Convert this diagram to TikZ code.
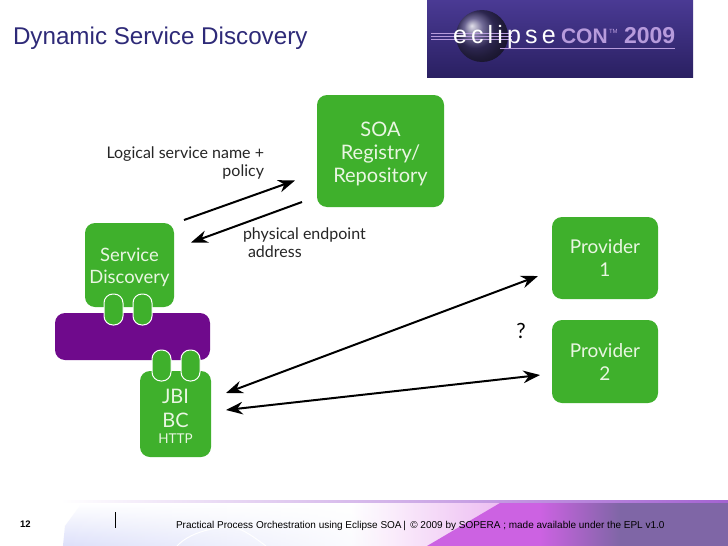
\documentclass[tikz,border=0pt]{standalone}
\usepackage{fontspec}
\usepackage{xcolor}
\setmainfont{Lato}
\newfontfamily\arialfont{Liberation Sans}
\usetikzlibrary{arrows.meta}
\usetikzlibrary{calc, fadings, positioning}
\definecolor{soagreen}{HTML}{3FB02C}
\definecolor{busviolet}{HTML}{6F0A8C}
\definecolor{titleblue}{HTML}{2E2A78}
\definecolor{boxtext}{HTML}{E9F6E2}
\definecolor{logotop}{HTML}{4A3A94}
\definecolor{logobottom}{HTML}{2A2062}
\definecolor{logotext}{HTML}{B79BDC}
\definecolor{footblue}{HTML}{DDE0FA}
\definecolor{footpink}{HTML}{CC62E2}
\definecolor{footpale}{HTML}{EDBDF2}
\definecolor{footdark}{HTML}{7F66A6}
\definecolor{footline}{HTML}{A463D2}
\tikzfading[name=blueout, left color=transparent!0, middle color=transparent!0, right color=transparent!100]
\tikzstyle{greenbox}=[rectangle, fill=soagreen, text=boxtext, rounded corners=10pt, align=center, inner sep=0pt]
\tikzstyle{pill}=[rectangle, fill=soagreen, draw=white, line width=1pt, rounded corners=9pt, minimum width=19pt, minimum height=31pt, inner sep=0pt]
\tikzstyle{caption}=[font=\fontsize{16pt}{18pt}\selectfont, inner sep=0pt, text=black!85]

\begin{document}
\begin{tikzpicture}[x=1pt, y=-1pt]

\tikzset{>={Stealth[scale=1.4]}}
\tikzset{every path/.style={line width=2pt}}

\useasboundingbox (0,0) rectangle (728,546);
\fill[white] (0,0) rectangle (728,546);

% Title and logo
\node[anchor=base west, inner sep=0pt, text=titleblue, font=\arialfont\fontsize{24.2pt}{26pt}\selectfont] (title) at (12,44) {Dynamic Service Discovery};

\shade[top color=logotop, bottom color=logobottom] (427,0) rectangle (693,77);
\shade[ball color=logobottom!90!white] (482,36) circle (26);
\foreach \ly in {33,36,39} {
    \draw[line width=.4pt, logotext] (431,\ly) -- (512,\ly);
}
\node[anchor=base west, inner sep=0pt, text=white, font=\arialfont\fontsize{25pt}{26pt}\selectfont] (eclipse) at (452,43) {e\,c\,l\,i\,p\,s\,e};
\node[anchor=base west, inner sep=0pt, text=logotext, font=\arialfont\bfseries\fontsize{21pt}{22pt}\selectfont] (con) at (560,43) {CON};
\node[anchor=base west, inner sep=0pt, text=logotext, font=\arialfont\fontsize{6pt}{7pt}\selectfont] (tm) at (608,33) {TM};
\node[anchor=base west, inner sep=0pt, text=logotext, font=\arialfont\bfseries\fontsize{23pt}{24pt}\selectfont] (year) at (623,43) {2009};
\draw[line width=.5pt, logotext] (500,48) -- (675,48);

% Boxes
\node[greenbox, minimum width=127pt, minimum height=112pt, font=\fontsize{20pt}{23pt}\selectfont] (registry) at (380.5,151) {\rule{0pt}{20pt}SOA\\Registry/\\Repository};
\node[greenbox, minimum width=106pt, minimum height=82pt, font=\fontsize{19pt}{23pt}\selectfont] (provider1) at (605,258) {Provider\\1};
\node[greenbox, minimum width=106pt, minimum height=83pt, font=\fontsize{19pt}{23pt}\selectfont, below=19pt of provider1] (provider2) {Provider\\2};

\node[greenbox, minimum width=89pt, minimum height=84pt, font=\fontsize{18.4pt}{22pt}\selectfont] (discovery) at (129.5,265) {\rule{0pt}{18pt}Service\\Discovery};
\node[rectangle, fill=busviolet, rounded corners=10pt, minimum width=155pt, minimum height=47pt, inner sep=0pt] (bus) at (132.5,336.5) {};
\node[greenbox, minimum width=71pt, minimum height=86pt, font=\fontsize{20pt}{24pt}\selectfont] (jbi) at (175.5,414) {\rule{0pt}{19pt}JBI\\BC\\[-8pt]{\fontsize{13.5pt}{15pt}\selectfont HTTP}};

% Connectors between the boxes
\node[pill] (pill1) at (113.5,309.5) {};
\node[pill] (pill2) at (142.5,309.5) {};
\node[pill] (pill3) at (161.5,365.5) {};
\node[pill] (pill4) at (190.5,365.5) {};

% Arrow ends
\coordinate (reqtail) at (184,220);
\coordinate (reqhead) at (295,180.5);
\coordinate (resptail) at (302,202);
\coordinate (resphead) at (191,242.5);
\coordinate (jbiup) at (226,393);
\coordinate (provup) at (538,276);
\coordinate (jbidown) at (226,410);
\coordinate (provdown) at (540,375);

\draw[->] (reqtail) -- (reqhead); % request
\draw[->] (resptail) -- (resphead); % response
\draw[<->] (jbiup) -- (provup); % to provider 1
\draw[<->] (jbidown) -- (provdown); % to provider 2

% Labels
\node[caption, anchor=north east, align=right] (reqlabel) at (265,146) {Logical service name +\\policy};
\node[caption, anchor=north west, align=left] (resplabel) at (242,227) {physical endpoint\\\hspace{5pt}address};
\node[inner sep=0pt, font=\fontsize{21pt}{22pt}\selectfont] (question) at (521,331) {?};

% Footer
\fill[left color=white, middle color=footline, right color=footline] (60,500) rectangle (728,502);
\fill[left color=white, right color=footpale] (350,503) rectangle (500,546);
\shade[top color=white, bottom color=footblue, path fading=blueout] (63,546) -- (65,526) -- (82,503) -- (390,503) -- (390,546) -- cycle;
\fill[footpink] (427,546) -- (500,503) -- (540,503) -- (540,546) -- cycle;
\fill[left color=footpink, right color=footdark] (540,503) rectangle (620,546);
\fill[footdark] (620,503) rectangle (728,546);
\draw[white, line width=1pt] (177,546) .. controls (188,534) and (210,527) .. (233,527) .. controls (245,530) and (255,538) .. (266,546);

\node[anchor=base west, inner sep=0pt, font=\arialfont\bfseries\fontsize{9.5pt}{10pt}\selectfont] (pagenum) at (19,527.5) {12};
\coordinate (bartop) at (115.5,512);
\coordinate (barbottom) at (115.5,528);
\draw[line width=.7pt] (bartop) -- (barbottom);
\node[anchor=base west, inner sep=0pt, font=\arialfont\fontsize{10pt}{11pt}\selectfont] (footer) at (175,528) {Practical Process Orchestration using Eclipse SOA\,|\, \textcopyright{} 2009 by SOPERA ; made available under the EPL v1.0};

\end{tikzpicture}
\end{document}
